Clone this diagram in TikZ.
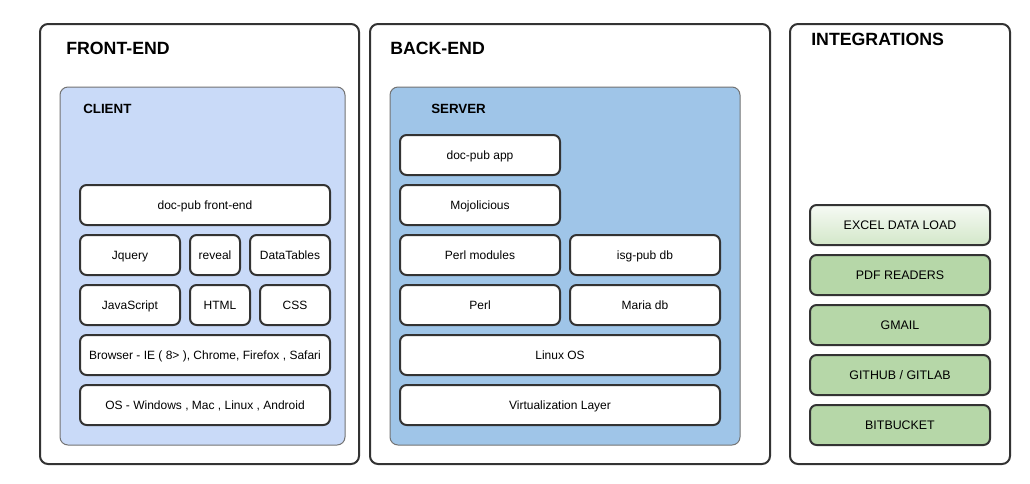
\documentclass[tikz,border=0pt]{standalone}
\usepackage{fontspec}
\setmainfont{Liberation Sans}
\definecolor{clientblue}{HTML}{C9DAF8}
\definecolor{serverblue}{HTML}{9FC5E8}
\definecolor{intgreen}{HTML}{B6D7A8}
\definecolor{intlight}{HTML}{D3E7C9}
\definecolor{edge}{HTML}{333333}
\tikzset{
  layer/.style={draw=edge, line width=1.5pt, rounded corners=6pt, fill=white, inner sep=0pt},
  group/.style={draw=black!55, line width=0.75pt, rounded corners=6pt, inner sep=0pt},
  item/.style={draw=edge, line width=1.5pt, rounded corners=5pt, fill=white, inner sep=0pt,
    minimum height=30pt, text height=7.6pt, text depth=1.6pt, font=\fontsize{9}{11}\selectfont},
  ext/.style={item, fill=intgreen, minimum width=135pt, font=\fontsize{9.3}{11}\selectfont},
  title/.style={anchor=west, inner sep=0pt, font=\fontsize{13.3}{15}\selectfont\bfseries},
  subtitle/.style={anchor=west, inner sep=0pt, font=\fontsize{10}{12}\selectfont\bfseries},
}
\begin{document}
\begin{tikzpicture}[x=0.75pt,y=-0.75pt]
	\useasboundingbox (0,0) rectangle (1030,483);
	
	% outer layers
	\node[layer, minimum width=239.25pt, minimum height=330pt] (front) at (199.5,244) {};
	\node[layer, minimum width=300pt, minimum height=330pt] (back) at (570,244) {};
	\node[layer, minimum width=165pt, minimum height=330pt] (integ) at (900,244) {};
	\node[title] (frontlbl) at (66,48.5) {FRONT-END};
	\node[title] (backlbl) at (390,48.5) {BACK-END};
	\node[title] (integlbl) at (811,39.5) {INTEGRATIONS};
	
	% client
	\node[group, fill=clientblue, minimum width=213.75pt, minimum height=268.5pt] (client) at (202.5,266) {};
	\node[subtitle] (clientlbl) at (83,108.5) {CLIENT};
	\node[item, minimum width=187.5pt] (fe) at (205,205) {doc-pub front-end};
	\node[item, minimum width=75pt] (jquery) at (130,255) {Jquery};
	\node[item, minimum width=37.5pt] (reveal) at (215,255) {reveal};
	\node[item, minimum width=60pt] (dt) at (290,255) {DataTables};
	\node[item, minimum width=75pt] (js) at (130,305) {JavaScript};
	\node[item, minimum width=45pt] (html) at (220,305) {HTML};
	\node[item, minimum width=52.5pt] (css) at (295,305) {CSS};
	\node[item, minimum width=187.5pt] (browser) at (205,355) {Browser - IE ( 8> ), Chrome, Firefox , Safari};
	\node[item, minimum width=187.5pt] (os) at (205,405) {OS - Windows , Mac , Linux , Android};
	
	% server
	\node[group, fill=serverblue, minimum width=262.5pt, minimum height=268.5pt] (server) at (565,266) {};
	\node[subtitle] (serverlbl) at (431,108.5) {SERVER};
	\node[item, minimum width=120pt] (app) at (480,155) {doc-pub app};
	\node[item, minimum width=120pt] (mojo) at (480,205) {Mojolicious};
	\node[item, minimum width=120pt] (pm) at (480,255) {Perl modules};
	\node[item, minimum width=112.5pt] (isg) at (645,255) {isg-pub db};
	\node[item, minimum width=120pt] (perl) at (480,305) {Perl};
	\node[item, minimum width=112.5pt] (maria) at (645,305) {Maria db};
	\node[item, minimum width=240pt] (linux) at (560,355) {Linux OS};
	\node[item, minimum width=240pt] (virt) at (560,405) {Virtualization Layer};
	
	% integrations
	\node[ext, top color=white!80!intlight, bottom color=intlight] (excel) at (900,225) {EXCEL DATA LOAD};
	\node[ext] (pdf) at (900,275) {PDF READERS};
	\node[ext] (gmail) at (900,325) {GMAIL};
	\node[ext] (git) at (900,375) {GITHUB / GITLAB};
	\node[ext] (bitb) at (900,425) {BITBUCKET};
\end{tikzpicture}
\end{document}
